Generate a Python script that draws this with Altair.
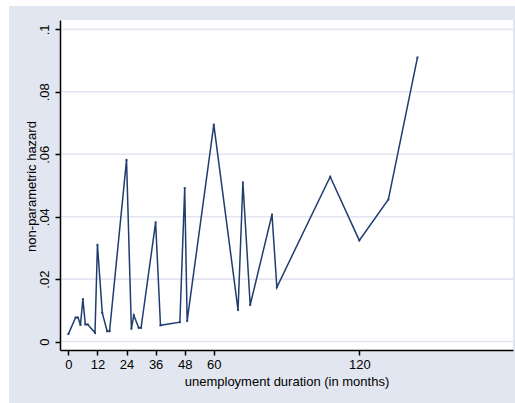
import altair as alt
import pandas as pd

# Kaplan-Meier style non-parametric hazard by unemployment duration
months = [0, 3, 4, 5, 6, 7, 8, 11, 12, 14, 16, 17, 24, 26, 27, 29, 30,
          36, 38, 46, 48, 49, 60, 70, 72, 75, 84, 86, 108, 120, 132, 144]
hazard = [0.0024, 0.0077, 0.0077, 0.0053, 0.0136, 0.0055, 0.0055, 0.0028,
          0.0310, 0.0092, 0.0033, 0.0033, 0.0582, 0.0041, 0.0084, 0.0044,
          0.0044, 0.0382, 0.0052, 0.0062, 0.0492, 0.0066, 0.0695, 0.0101,
          0.0510, 0.0117, 0.0407, 0.0174, 0.0528, 0.0324, 0.0455, 0.0910]

x_ticks = [0, 12, 24, 36, 48, 60, 120]
y_ticks = [0, 0.02, 0.04, 0.06, 0.08, 0.1]

W, H = 453, 330
NAVY = "#1F3D6E"
REGION = "#E2E6F0"
GRID = "#E2E6F0"
FONT = "Liberation Sans"

df = pd.DataFrame({"months": months, "hazard": hazard})
grid_df = pd.DataFrame({"hazard": y_ticks})

x_scale = alt.Scale(domain=[-3.44, 183.4], nice=False, zero=False)
y_scale = alt.Scale(domain=[-0.0027, 0.103], nice=False, zero=False)

x_axis = alt.Axis(
    values=x_ticks, grid=False, title="unemployment duration (in months)",
    domainColor="black", domainWidth=1.5, tickColor="black", tickWidth=1.5,
    tickSize=5, labelPadding=3, labelFontSize=13, labelFont=FONT,
    labelColor="black", titleFont=FONT, titleFontSize=13,
    titleFontWeight="normal", titleColor="black", titleY=31,
    titleBaseline="middle", labelFlush=False, labelOverlap=False, zindex=1,
)
y_axis = alt.Axis(
    values=y_ticks, grid=False, title="non-parametric hazard",
    labelExpr="datum.value == 0 ? '0' : replace(format(datum.value, '.2~f'), '0.', '.')",
    domainColor="black", domainWidth=1.5, tickColor="black", tickWidth=1.5,
    tickSize=5, labelPadding=4, labelAngle=270, labelAlign="center",
    labelBaseline="bottom", labelFontSize=13, labelFont=FONT,
    labelColor="black", titleFont=FONT, titleFontSize=13,
    titleFontWeight="normal", titleColor="black", titleAngle=270,
    titleX=-29, titleY=166, titleBaseline="middle", titleAlign="center",
    labelFlush=False, labelOverlap=False, zindex=1,
)

# graph region (bluish gray) and white plot region
region = alt.Chart(alt.Data(values=[{}])).mark_rect(color=REGION).encode(
    x=alt.value(-51), x2=alt.value(W + 2), y=alt.value(-14), y2=alt.value(H + 53)
)
plot_bg = alt.Chart(alt.Data(values=[{}])).mark_rect(color="white").encode(
    x=alt.value(0), x2=alt.value(W), y=alt.value(0), y2=alt.value(H)
)

grid = alt.Chart(grid_df).mark_rule(color=GRID, strokeWidth=1.6).encode(
    y=alt.Y("hazard:Q", scale=y_scale, axis=y_axis),
    x=alt.value(0),
    x2=alt.value(W),
)

line = alt.Chart(df).mark_line(color=NAVY, strokeWidth=1.5).encode(
    x=alt.X("months:Q", scale=x_scale, axis=x_axis),
    y=alt.Y("hazard:Q", scale=y_scale, axis=y_axis),
)
dots = alt.Chart(df).mark_square(color=NAVY, size=4, opacity=0.9).encode(
    x=alt.X("months:Q", scale=x_scale, axis=x_axis),
    y=alt.Y("hazard:Q", scale=y_scale, axis=y_axis),
)

chart = alt.layer(region, plot_bg, grid, line, dots).properties(
    width=W, height=H,
    autosize=alt.AutoSizeParams(type="none"),
    padding={"left": 60, "top": 20, "right": 2, "bottom": 53},
    background="white",
).configure_view(stroke=None)

chart.save("out.html", embed_options={"renderer": "svg", "actions": False})
